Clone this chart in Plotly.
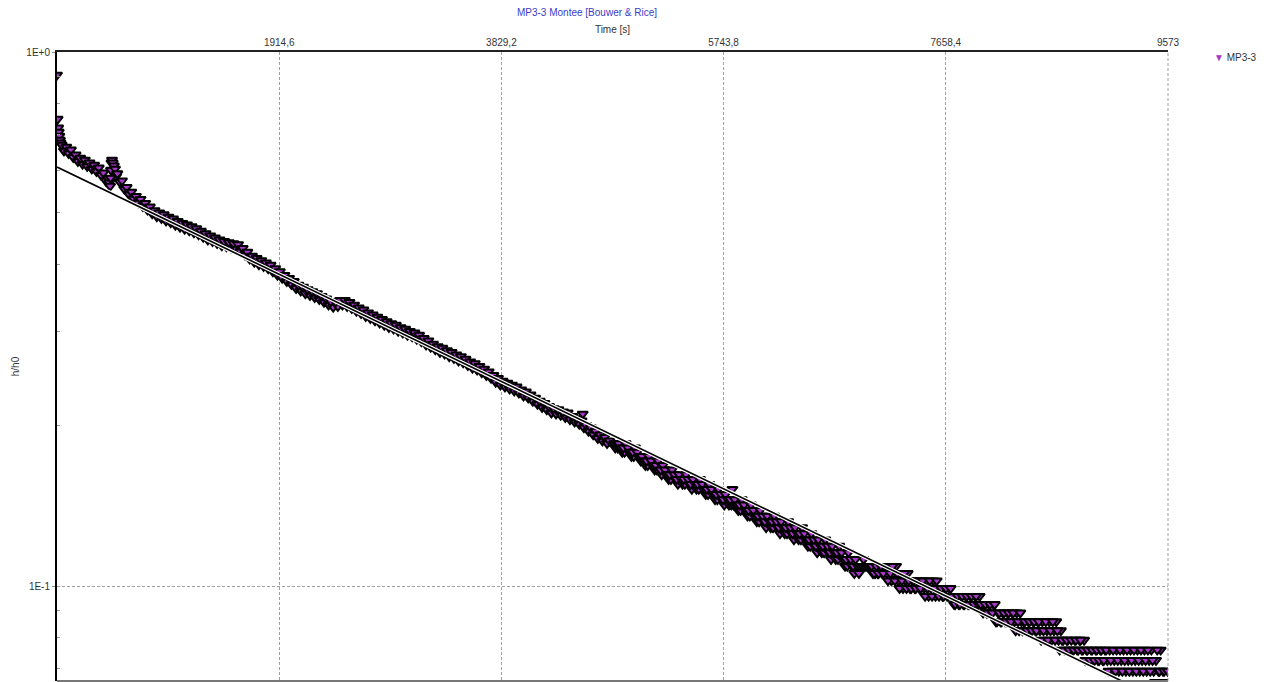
import plotly.graph_objects as go

# ---- data (t in s, h/h0) ----
# early part: fast initial drop, small dip / rebound near t~460 s (upper edge of band)
time_early = [0, 5, 10, 15, 20, 25, 30, 40, 80, 120,
              160, 200, 240, 280, 320, 360, 400, 440, 450, 457,
              462, 466, 470, 474, 480, 490, 500, 520, 560, 600]
h_early = [0.906, 0.749, 0.721, 0.708, 0.696, 0.684, 0.676, 0.670, 0.664, 0.656,
           0.642, 0.633, 0.628, 0.620, 0.614, 0.607, 0.594, 0.579, 0.569, 0.561,
           0.581, 0.601, 0.620, 0.628, 0.620, 0.612, 0.604, 0.592, 0.574, 0.558]
# early part, lower edge of the band
time_early_low = [60, 100, 140, 180, 220, 260, 300, 340, 380, 420, 510, 540, 580, 620]
h_early_low = [0.653, 0.646, 0.635, 0.624, 0.617, 0.611, 0.604, 0.598, 0.588, 0.574,
               0.585, 0.571, 0.554, 0.541]

# middle part, upper edge
time_mid = [640, 680, 720, 760, 800, 840, 880, 920, 960, 1000,
            1040, 1080, 1120, 1160, 1200, 1240, 1280, 1320, 1360, 1400,
            1440, 1480, 1520, 1560, 1600, 1640, 1680, 1720, 1760, 1800,
            1840, 1880, 1920, 1960, 2000, 2040, 2080, 2120, 2160, 2200,
            2240, 2280, 2320, 2360, 2400, 2440, 2480, 2520, 2560, 2600,
            2640, 2680, 2720, 2760, 2800, 2840, 2880, 2920, 2960, 3000,
            3040, 3080, 3120, 3160, 3200, 3240, 3280, 3320, 3360, 3400,
            3440, 3480, 3520, 3560, 3600, 3640, 3680, 3720, 3760, 3800,
            3840, 3880, 3920, 3960, 4000, 4040, 4080, 4120, 4160, 4200,
            4240, 4280, 4320, 4360, 4400, 4440, 4480, 4520, 4530,
            4560, 4600, 4640, 4680, 4720, 4760]
h_mid = [0.547, 0.537, 0.530, 0.521, 0.513, 0.505, 0.500, 0.496, 0.491, 0.487,
         0.482, 0.478, 0.475, 0.471, 0.467, 0.462, 0.457, 0.453, 0.449, 0.445,
         0.442, 0.440, 0.438, 0.436, 0.429, 0.422, 0.415, 0.411, 0.407, 0.403,
         0.399, 0.393, 0.388, 0.382, 0.377, 0.372, 0.366, 0.363, 0.359, 0.356,
         0.353, 0.349, 0.345, 0.341, 0.340, 0.343, 0.343, 0.340, 0.336, 0.332,
         0.329, 0.325, 0.322, 0.319, 0.316, 0.313, 0.310, 0.308, 0.305, 0.303,
         0.300, 0.298, 0.295, 0.291, 0.288, 0.284, 0.281, 0.279, 0.276, 0.274,
         0.271, 0.269, 0.266, 0.263, 0.261, 0.258, 0.255, 0.252, 0.248, 0.245,
         0.242, 0.240, 0.238, 0.236, 0.233, 0.231, 0.228, 0.225, 0.222, 0.220,
         0.217, 0.215, 0.214, 0.212, 0.211, 0.208, 0.206, 0.204, 0.210,
         0.200, 0.198, 0.195, 0.192, 0.190, 0.187]
# middle part, lower edge
time_mid_low = [660, 700, 740, 780, 820, 860, 900, 940, 980, 1020,
                1060, 1100, 1140, 1180, 1220, 1260, 1300, 1340, 1380, 1420,
                1460, 1500, 1540, 1580, 1620, 1660, 1700, 1740, 1780, 1820,
                1860, 1900, 1940, 1980, 2020, 2060, 2100, 2140, 2180, 2220,
                2260, 2300, 2340, 2380, 2420, 2460, 2500, 2540, 2580, 2620,
                2660, 2700, 2740, 2780, 2820, 2860, 2900, 2940, 2980, 3020,
                3060, 3100, 3140, 3180, 3220, 3260, 3300, 3340, 3380, 3420,
                3460, 3500, 3540, 3580, 3620, 3660, 3700, 3740, 3780, 3820,
                3860, 3900, 3940, 3980, 4020, 4060, 4100, 4140, 4180, 4220,
                4260, 4300, 4340, 4380, 4420, 4460, 4500, 4540, 4580, 4620,
                4660, 4700, 4740]
h_mid_low = [0.531, 0.522, 0.514, 0.506, 0.498, 0.492, 0.488, 0.483, 0.479, 0.474,
             0.470, 0.466, 0.463, 0.459, 0.455, 0.450, 0.445, 0.442, 0.438, 0.434,
             0.432, 0.430, 0.428, 0.423, 0.417, 0.410, 0.404, 0.400, 0.397, 0.393,
             0.388, 0.382, 0.377, 0.372, 0.367, 0.361, 0.357, 0.353, 0.350, 0.347,
             0.344, 0.340, 0.336, 0.333, 0.334, 0.336, 0.334, 0.331, 0.327, 0.324,
             0.320, 0.317, 0.314, 0.311, 0.308, 0.305, 0.303, 0.300, 0.298, 0.295,
             0.293, 0.290, 0.287, 0.283, 0.280, 0.277, 0.274, 0.272, 0.269, 0.267,
             0.264, 0.262, 0.259, 0.256, 0.254, 0.251, 0.248, 0.245, 0.241, 0.238,
             0.236, 0.234, 0.232, 0.230, 0.227, 0.225, 0.222, 0.219, 0.216, 0.214,
             0.211, 0.210, 0.209, 0.207, 0.205, 0.203, 0.201, 0.198, 0.195, 0.192,
             0.189, 0.187, 0.185]

# late part (values stepped by the logger resolution), upper edge
time_late = [4800, 4820, 4840, 4860, 4880, 4900, 4920, 4940, 4960, 4980,
             5000, 5020, 5040, 5060, 5080, 5100, 5120, 5140, 5160, 5180,
             5200, 5220, 5240, 5260, 5280, 5300, 5320, 5340, 5360, 5380,
             5400, 5420, 5440, 5460, 5480, 5500, 5520, 5540, 5560, 5580,
             5600, 5620, 5640, 5660, 5680, 5700, 5720, 5740, 5760, 5780,
             5800, 5820, 5840, 5860, 5880, 5900, 5920, 5940, 5960, 5980,
             6000, 6020, 6040, 6060, 6080, 6100, 6120, 6140, 6160, 6180,
             6200, 6220, 6240, 6260, 6280, 6300, 6320, 6340, 6360, 6380,
             6400, 6420, 6440, 6460, 6480, 6500, 6520, 6540, 6560, 6580,
             6600, 6620, 6640, 6660, 6680, 6700, 6720, 6740, 6760, 6780,
             6800, 6820, 6840, 6860, 6880, 6900, 6920]
h_late = [0.1848, 0.1848, 0.1848, 0.1815, 0.1815, 0.1848, 0.1815, 0.1782, 0.1782, 0.1815,
          0.1782, 0.1749, 0.1749, 0.1716, 0.1716, 0.1749, 0.1716, 0.1683, 0.1683, 0.1716,
          0.1650, 0.1683, 0.1650, 0.1617, 0.1617, 0.1650, 0.1617, 0.1584, 0.1617, 0.1584,
          0.1584, 0.1617, 0.1584, 0.1551, 0.1584, 0.1551, 0.1551, 0.1584, 0.1551, 0.1518,
          0.1518, 0.1551, 0.1518, 0.1485, 0.1485, 0.1518, 0.1485, 0.1452, 0.1485, 0.1452,
          0.1452, 0.1518, 0.1452, 0.1419, 0.1419, 0.1452, 0.1419, 0.1386, 0.1386, 0.1419,
          0.1386, 0.1353, 0.1353, 0.1386, 0.1353, 0.1320, 0.1353, 0.1320, 0.1320, 0.1353,
          0.1320, 0.1287, 0.1320, 0.1287, 0.1287, 0.1320, 0.1287, 0.1254, 0.1287, 0.1254,
          0.1254, 0.1287, 0.1254, 0.1221, 0.1221, 0.1254, 0.1221, 0.1188, 0.1221, 0.1188,
          0.1188, 0.1221, 0.1188, 0.1155, 0.1188, 0.1155, 0.1155, 0.1188, 0.1155, 0.1122,
          0.1122, 0.1155, 0.1122, 0.1089, 0.1122, 0.1089, 0.1089]
# late part, lower edge
time_late_low = [4810, 4830, 4850, 4870, 4890, 4910, 4930, 4950, 4970, 4990,
                 5010, 5030, 5050, 5070, 5090, 5110, 5130, 5150, 5170, 5190,
                 5210, 5230, 5250, 5270, 5290, 5310, 5330, 5350, 5370, 5390,
                 5410, 5430, 5450, 5470, 5490, 5510, 5530, 5550, 5570, 5590,
                 5610, 5630, 5650, 5670, 5690, 5710, 5730, 5750, 5770, 5790,
                 5810, 5830, 5850, 5870, 5890, 5910, 5930, 5950, 5970, 5990,
                 6010, 6030, 6050, 6070, 6090, 6110, 6130, 6150, 6170, 6190,
                 6210, 6230, 6250, 6270, 6290, 6310, 6330, 6350, 6370, 6390,
                 6410, 6430, 6450, 6470, 6490, 6510, 6530, 6550, 6570, 6590,
                 6610, 6630, 6650, 6670, 6690, 6710, 6730, 6750, 6770, 6790,
                 6810, 6830, 6850, 6870, 6890, 6910]
h_late_low = [0.1815, 0.1815, 0.1815, 0.1782, 0.1782, 0.1815, 0.1782, 0.1749, 0.1749, 0.1782,
              0.1749, 0.1716, 0.1716, 0.1683, 0.1683, 0.1716, 0.1683, 0.1650, 0.1650, 0.1683,
              0.1617, 0.1650, 0.1617, 0.1584, 0.1584, 0.1617, 0.1584, 0.1551, 0.1584, 0.1551,
              0.1551, 0.1584, 0.1551, 0.1518, 0.1551, 0.1518, 0.1518, 0.1551, 0.1518, 0.1485,
              0.1485, 0.1518, 0.1485, 0.1452, 0.1452, 0.1485, 0.1452, 0.1419, 0.1452, 0.1419,
              0.1419, 0.1419, 0.1419, 0.1386, 0.1386, 0.1419, 0.1386, 0.1353, 0.1353, 0.1386,
              0.1353, 0.1320, 0.1320, 0.1353, 0.1320, 0.1287, 0.1320, 0.1287, 0.1287, 0.1320,
              0.1287, 0.1254, 0.1287, 0.1254, 0.1254, 0.1287, 0.1254, 0.1221, 0.1254, 0.1221,
              0.1221, 0.1254, 0.1221, 0.1188, 0.1188, 0.1221, 0.1188, 0.1155, 0.1188, 0.1155,
              0.1155, 0.1188, 0.1155, 0.1122, 0.1155, 0.1122, 0.1122, 0.1155, 0.1122, 0.1089,
              0.1089, 0.1122, 0.1089, 0.1056, 0.1089, 0.1056]

# tail (alternating between neighbouring levels)
time_tail = [6940, 6960, 6980, 7000, 7020, 7040, 7060, 7080, 7100, 7120,
             7140, 7160, 7180, 7200, 7220, 7240, 7260, 7280, 7300, 7320,
             7340, 7360, 7380, 7400, 7420, 7440, 7460, 7480, 7500, 7520,
             7540, 7560, 7580, 7600, 7620, 7640, 7660, 7680, 7700, 7720,
             7740, 7760, 7780, 7800, 7820, 7840, 7860, 7880, 7900, 7920,
             7940, 7960, 7980, 8000, 8020, 8040, 8060, 8080, 8100, 8120,
             8140, 8160, 8180, 8200, 8220, 8240, 8260, 8280, 8300, 8320,
             8340, 8360, 8380, 8400, 8420, 8440, 8460, 8480, 8500, 8520,
             8540, 8560, 8580, 8600, 8620, 8640, 8660, 8680, 8700, 8720,
             8740, 8760, 8780, 8800, 8820, 8840, 8860, 8880, 8900, 8920,
             8940, 8960, 8980, 9000, 9020, 9040, 9060, 9080, 9100, 9120,
             9140, 9160, 9180, 9200, 9220, 9240, 9260, 9280, 9300, 9320,
             9340, 9360, 9380, 9400, 9420, 9440, 9460, 9480, 9500, 9520,
             9540, 9560, 9570]
h_tail = [0.1089, 0.1089, 0.1089, 0.1089, 0.1089, 0.1056, 0.1089, 0.1056, 0.1089, 0.1056,
          0.1089, 0.1023, 0.1056, 0.1089, 0.1023, 0.1056, 0.0990, 0.1023, 0.1056, 0.0990,
          0.1023, 0.0990, 0.1023, 0.0990, 0.1023, 0.0990, 0.1023, 0.0957, 0.0990, 0.1023,
          0.0957, 0.0990, 0.1023, 0.0957, 0.0990, 0.0957, 0.0990, 0.0957, 0.0990, 0.0957,
          0.0924, 0.0957, 0.0924, 0.0957, 0.0924, 0.0957, 0.0924, 0.0957, 0.0924, 0.0957,
          0.0924, 0.0924, 0.0891, 0.0924, 0.0891, 0.0924, 0.0891, 0.0924, 0.0858, 0.0891,
          0.0858, 0.0891, 0.0858, 0.0891, 0.0858, 0.0891, 0.0825, 0.0858, 0.0891, 0.0825,
          0.0858, 0.0825, 0.0858, 0.0825, 0.0858, 0.0825, 0.0858, 0.0792, 0.0825, 0.0858,
          0.0792, 0.0825, 0.0858, 0.0792, 0.0825, 0.0759, 0.0792, 0.0759, 0.0792, 0.0759,
          0.0792, 0.0759, 0.0792, 0.0759, 0.0792, 0.0759, 0.0726, 0.0759, 0.0726, 0.0759,
          0.0726, 0.0759, 0.0726, 0.0759, 0.0726, 0.0759, 0.0693, 0.0726, 0.0759, 0.0693,
          0.0726, 0.0759, 0.0693, 0.0726, 0.0759, 0.0693, 0.0726, 0.0759, 0.0693, 0.0726,
          0.0759, 0.0693, 0.0726, 0.0759, 0.0693, 0.0726, 0.0660, 0.0759, 0.0693, 0.0660,
          0.0693, 0.0660, 0.0693]
time_tail_b = [6950, 6970, 6990, 7010, 7030, 7050, 7070, 7090, 7110, 7130,
               7150, 7170, 7190, 7210, 7230, 7250, 7270, 7290, 7310, 7330,
               7350, 7370, 7390, 7410, 7430, 7450, 7470, 7490, 7510, 7530,
               7550, 7570, 7590, 7610, 7630, 7650, 7670, 7690, 7710, 7730,
               7750, 7770, 7790, 7810, 7830, 7850, 7870, 7890, 7910, 7930,
               7950, 7970, 7990, 8010, 8030, 8050, 8070, 8090, 8110, 8130,
               8150, 8170, 8190, 8210, 8230, 8250, 8270, 8290, 8310, 8330,
               8350, 8370, 8390, 8410, 8430, 8450, 8470, 8490, 8510, 8530,
               8550, 8570, 8590, 8610, 8630, 8650, 8670, 8690, 8710, 8730,
               8750, 8770, 8790, 8810, 8830, 8850, 8870, 8890, 8910, 8930,
               8950, 8970, 8990, 9010, 9030, 9050, 9070, 9090, 9110, 9130,
               9150, 9170, 9190, 9210, 9230, 9250, 9270, 9290, 9310, 9330,
               9350, 9370, 9390, 9410, 9430, 9450, 9470, 9490, 9510, 9530,
               9550]
h_tail_b = [0.1122, 0.1089, 0.1089, 0.1089, 0.1056, 0.1056, 0.1056, 0.1089, 0.1056, 0.1089,
            0.1056, 0.1089, 0.1023, 0.1056, 0.1089, 0.1023, 0.1056, 0.0990, 0.1023, 0.1056,
            0.0990, 0.1023, 0.0990, 0.1023, 0.0990, 0.1023, 0.0990, 0.1023, 0.0957, 0.0990,
            0.1023, 0.0957, 0.0990, 0.0990, 0.0957, 0.0990, 0.0957, 0.0990, 0.0957, 0.0924,
            0.0957, 0.0924, 0.0957, 0.0924, 0.0957, 0.0924, 0.0957, 0.0924, 0.0957, 0.0924,
            0.0957, 0.0924, 0.0924, 0.0891, 0.0924, 0.0891, 0.0924, 0.0858, 0.0891, 0.0858,
            0.0891, 0.0858, 0.0891, 0.0858, 0.0891, 0.0858, 0.0891, 0.0825, 0.0858, 0.0858,
            0.0825, 0.0858, 0.0825, 0.0858, 0.0825, 0.0858, 0.0825, 0.0858, 0.0792, 0.0825,
            0.0858, 0.0792, 0.0825, 0.0858, 0.0792, 0.0825, 0.0792, 0.0759, 0.0792, 0.0759,
            0.0759, 0.0792, 0.0759, 0.0792, 0.0759, 0.0792, 0.0759, 0.0726, 0.0759, 0.0726,
            0.0759, 0.0726, 0.0759, 0.0726, 0.0759, 0.0726, 0.0759, 0.0693, 0.0726, 0.0759,
            0.0693, 0.0726, 0.0759, 0.0693, 0.0726, 0.0759, 0.0693, 0.0726, 0.0759, 0.0693,
            0.0726, 0.0759, 0.0693, 0.0726, 0.0759, 0.0693, 0.0726, 0.0693, 0.0759, 0.0693,
            0.0660]

# Bouwer & Rice fitted straight line (end points)
fit_time = [0, 9573]
fit_h = [0.609, 0.0603]

x_tickvals = [1914.6, 3829.2, 5743.8, 7658.4, 9573]
x_ticktext = ["1914,6", "3829,2", "5743,8", "7658,4", "9573"]
y_tickvals = [1, 0.1]
y_ticktext = ["1E+0", "1E-1"]
y_minor = [0.07, 0.08, 0.09, 0.2, 0.3, 0.4, 0.5, 0.6, 0.7, 0.8, 0.9]

# lower-edge points are drawn first, upper-edge points on top of them
pairs = [(time_early_low, h_early_low), (time_mid_low, h_mid_low),
         (time_late_low, h_late_low), (time_tail_b, h_tail_b),
         (time_early, h_early), (time_mid, h_mid), (time_late, h_late),
         (time_tail, h_tail)]
time_s, h_h0 = [], []
for tt, hh in pairs:
    n = min(len(tt), len(hh))
    time_s += tt[:n]
    h_h0 += hh[:n]

FONT = "Liberation Sans, Arial, sans-serif"
PURPLE = "#a838c8"

# The page body has an 8 px margin, so the figure is 8 px smaller and
# its margins are 8 px smaller than the target pixel positions.
W, H = 1262, 674
ML, MT = 49, 44
PW, PH = 1111, 629
MR, MB = W - ML - PW, H - MT - PH

fig = go.Figure()
fig.add_trace(go.Scatter(
    x=time_s, y=h_h0, mode="markers", name="MP3-3", showlegend=False,
    marker=dict(symbol="triangle-down", size=9, color=PURPLE,
                line=dict(color="black", width=2)),
))
fig.add_trace(go.Scatter(
    x=fit_time, y=fit_h, mode="lines", showlegend=False, hoverinfo="skip",
    line=dict(color="white", width=4),
))
fig.add_trace(go.Scatter(
    x=fit_time, y=fit_h, mode="lines", showlegend=False,
    line=dict(color="black", width=1.6),
))

fig.update_layout(
    width=W, height=H,
    margin=dict(l=ML, r=MR, t=MT, b=MB, autoexpand=False),
    paper_bgcolor="white", plot_bgcolor="white",
    font=dict(family=FONT, size=10, color="#333333"),
    showlegend=False,
    title=dict(text="MP3-3 Montee [Bouwer & Rice]", x=(587 - 8) / W, xanchor="center",
               y=1 - (12 - 8) / H, yanchor="middle", yref="container",
               font=dict(family=FONT, size=10, color="#3c3cc8")),
    xaxis=dict(
        side="top", range=[0, 9573], tickmode="array",
        tickvals=x_tickvals, ticktext=x_ticktext,
        showgrid=True, gridcolor="#a0a0a0", griddash="3px,2px", gridwidth=1,
        showline=True, linecolor="#222222", linewidth=2,
        ticks="", automargin=False,
        zeroline=False,
        title=dict(text="Time [s]", standoff=2, font=dict(family=FONT, size=10)),
    ),
    yaxis=dict(
        type="log", range=[-1.1779, 0], tickmode="array",
        tickvals=y_tickvals, ticktext=y_ticktext,
        showgrid=True, gridcolor="#a0a0a0", griddash="3px,2px", gridwidth=1,
        showline=True, linecolor="black", linewidth=2,
        ticks="outside", ticklen=3, tickcolor="#888888", automargin=False,
        minor=dict(tickvals=y_minor, ticks="inside", ticklen=3,
                   tickcolor="#999999", showgrid=False),
        zeroline=False,
        title=dict(text="h/h0", standoff=5, font=dict(family=FONT, size=10)),
    ),
    shapes=[
        dict(type="line", xref="paper", yref="paper", x0=0, x1=1, y0=0, y1=0,
             line=dict(color="#777777", width=2)),
        dict(type="line", xref="paper", yref="paper", x0=1, x1=1, y0=0, y1=1,
             line=dict(color="#a0a0a0", width=1, dash="3px,2px")),
    ],
    annotations=[dict(
        text=f"<span style='color:{PURPLE}'>▼</span> MP3-3",
        xref="paper", yref="paper", x=(1212 - 57) / PW, y=1 - (57 - 52) / PH,
        xanchor="left", yanchor="middle", showarrow=False,
        font=dict(family=FONT, size=10, color="#333333"),
    )],
)

fig.write_html("out.html")
